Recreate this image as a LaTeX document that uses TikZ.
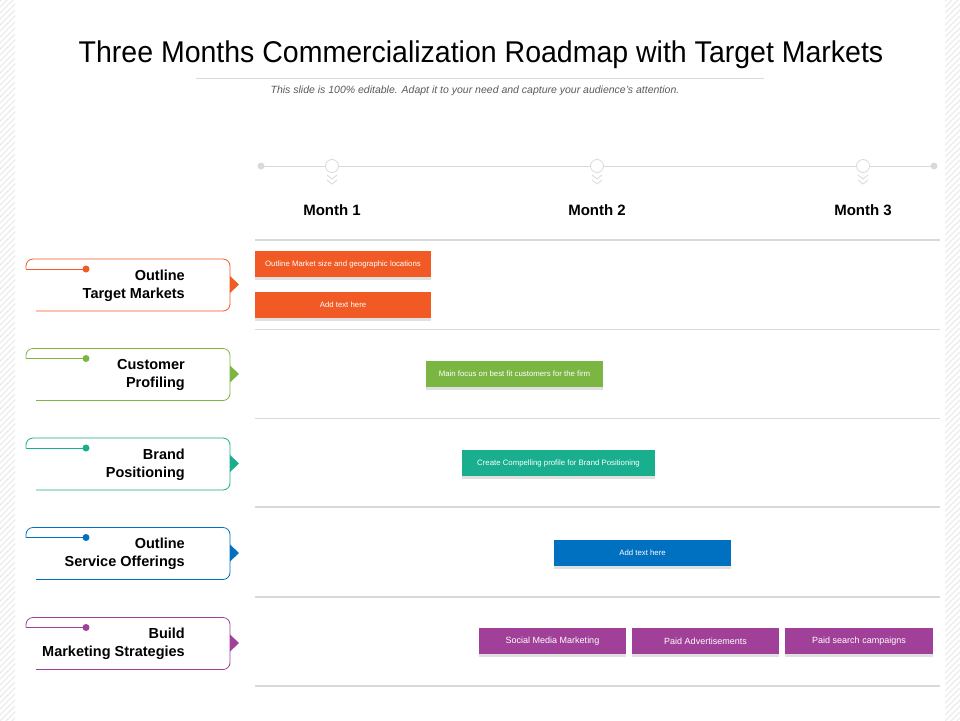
\documentclass[tikz,border=0pt]{standalone}
\usepackage{fontspec}
\setmainfont{Liberation Sans}
\newfontfamily\titlefont[FakeStretch=0.95]{Liberation Sans}
\usetikzlibrary{shadows}

\definecolor{tmorange}{RGB}{241,90,36}
\definecolor{tmgreen}{RGB}{124,182,66}
\definecolor{tmteal}{RGB}{24,174,142}
\definecolor{tmblue}{RGB}{0,112,192}
\definecolor{tmpurple}{RGB}{160,64,152}
\definecolor{linegray}{RGB}{217,217,217}
\definecolor{hatchgray}{RGB}{236,236,236}
\definecolor{subgray}{RGB}{90,90,90}

\tikzset{
  rowline/.style={draw=linegray, line width=1.5pt},
  hatch/.style={draw=hatchgray, line width=1.2pt},
  tline/.style={draw=linegray, line width=1pt},
  mcircle/.style={circle, draw=linegray, fill=white, line width=0.8pt, minimum size=13pt, inner sep=0pt},
  chev/.style={draw=linegray, line width=0.8pt},
  month/.style={font=\fontsize{15}{18}\selectfont\bfseries},
  labelbox/.style={draw=#1, line width=0.8pt, rounded corners=7pt},
  rowlabel/.style={align=right, inner sep=0pt, font=\fontsize{14.5}{18}\selectfont\bfseries},
  bar/.style={rectangle, fill=#1, inner sep=0pt, minimum height=26pt, text=white,
    font=\fontsize{7.8}{9}\selectfont,
    drop shadow={shadow xshift=0pt, shadow yshift=-3pt, fill=black!12, opacity=1}},
}

\begin{document}
\begin{tikzpicture}[x=1pt,y=-1pt]
\useasboundingbox (0,0) rectangle (960,720);
\fill[white] (0,0) rectangle (960,720);

% hatched side strips
\begin{scope}
\clip (0,0) rectangle (15,720);
\foreach \k in {0,6,...,750} \draw[hatch] (-5,\k) -- (25,\k-30);
\end{scope}
\begin{scope}
\clip (945,0) rectangle (960,720);
\foreach \k in {0,6,...,750} \draw[hatch] (940,\k) -- (970,\k-30);
\end{scope}

% title
\node[font=\titlefont\fontsize{30}{36}\selectfont] (title) at (481,55) {Three Months Commercialization Roadmap with Target Markets};
\draw[linegray, line width=0.8pt] (196,78) -- (764,78);
\node[font=\fontsize{10.5}{12}\selectfont\itshape, text=subgray] (subtitle) at (475,91) {This slide is 100\% editable. Adapt it to your need and capture your audience’s attention.};

% timeline
\coordinate (tl0) at (261,166);
\coordinate (tl4) at (934,166);
\draw[tline] (tl0) -- (tl4);
\fill[linegray] (tl0) circle (3.5);
\fill[linegray] (tl4) circle (3.5);
\foreach \x/\m in {332/1,597/2,863/3}{
  \node[mcircle] (mc\m) at (\x,166) {};
  \draw[chev] (\x-5,175) -- (\x,179) -- (\x+5,175);
  \draw[chev] (\x-5,180) -- (\x,184) -- (\x+5,180);
  \node[month] (month\m) at (\x,210) {Month \m};
}

% row separators
\foreach \y in {240,329.5,418.5,507,597,686}
  \draw[rowline] (255,\y) -- (940,\y);

% row labels
\foreach \cy/\col/\txt [count=\i] in {
  284.5/tmorange/{Outline\\Target Markets},
  374/tmgreen/{Customer\\Profiling},
  463.5/tmteal/{Brand\\Positioning},
  553/tmblue/{Outline\\Service Offerings},
  643/tmpurple/{Build\\Marketing Strategies}}{
  \draw[labelbox=\col] (26,\cy-15.5) |- (230,\cy-25.5) |- (36,\cy+26.5);
  \draw[\col, line width=0.8pt] (26,\cy-15.5) -- (86,\cy-15.5);
  \fill[\col] (86,\cy-15.5) circle (3.5);
  \fill[\col] (230,\cy-8.5) -- (239,\cy) -- (230,\cy+8.5) -- cycle;
  \node[rowlabel, anchor=east] (lbl\i) at (185,\cy+1) {\txt};
}

% bars
\node[bar=tmorange, minimum width=176pt] (b1a) at (343,264) {Outline Market size and geographic locations};
\node[bar=tmorange, minimum width=176pt] (b1b) at (343,304.5) {Add text here};
\node[bar=tmgreen, minimum width=177pt] (b2) at (514.5,374) {Main focus on best fit customers for the firm};
\node[bar=tmteal, minimum width=193pt] (b3) at (558.5,463) {Create Compelling profile for Brand Positioning};
\node[bar=tmblue, minimum width=177pt] (b4) at (642.5,552.5) {Add text here};
\node[bar=tmpurple, minimum width=147pt, font=\fontsize{9}{11}\selectfont] (b5a) at (552.5,641) {Social Media Marketing};
\node[bar=tmpurple, minimum width=147pt, font=\fontsize{9}{11}\selectfont] (b5b) at (705.5,641) {Paid Advertisements};
\node[bar=tmpurple, minimum width=148pt, font=\fontsize{9}{11}\selectfont] (b5c) at (859,641) {Paid search campaigns};

\end{tikzpicture}
\end{document}
